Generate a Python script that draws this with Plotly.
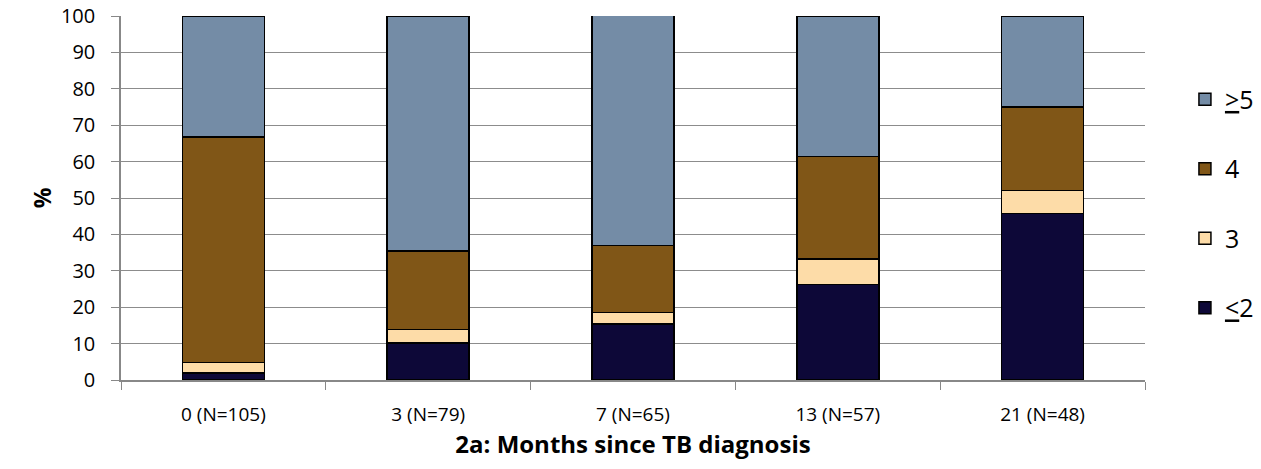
import plotly.graph_objects as go

categories = ["0 (N=105)", "3 (N=79)", "7 (N=65)", "13 (N=57)", "21 (N=48)"]
le2 = [1.9, 10.1, 15.4, 26.3, 45.8]
three = [2.9, 3.8, 3.1, 7.0, 6.3]
four = [61.9, 21.5, 18.5, 28.1, 22.9]
ge5 = [33.3, 64.6, 63.1, 38.6, 25.0]

series_names = ["<u>&lt;</u>2", "3", "4", "<u>&gt;</u>5"]
series_values = [le2, three, four, ge5]
colors = ["#0D0838", "#FDDCA8", "#805617", "#748CA6"]

FONT = "Open Sans"

fig = go.Figure()
for i, (name, vals, col) in enumerate(zip(series_names, series_values, colors)):
    fig.add_trace(go.Bar(
        x=categories, y=vals, name=name,
        marker=dict(color=col, line=dict(color="black", width=1.5)),
        legendgroup=f"g{i}",
        legendrank=100 - i,
    ))

fig.update_layout(
    barmode="stack",
    bargap=0.6,
    width=1261, height=469,
    margin=dict(l=121, r=116, t=16, b=89, autoexpand=False),
    plot_bgcolor="white", paper_bgcolor="white",
    font=dict(family=FONT, color="black", size=19),
    legend=dict(
        x=1.039, y=0.485, xanchor="left", yanchor="middle",
        traceorder="grouped", tracegroupgap=34,
        font=dict(size=25, family=FONT),
    ),
    xaxis=dict(
        showline=True, linecolor="#888888", linewidth=1.5,
        ticks="outside", tickson="boundaries", ticklen=8, tickcolor="#888888",
        tickfont=dict(size=19), ticklabelstandoff=16,
        title=dict(text="<b>2a: Months since TB diagnosis</b>", font=dict(size=24), standoff=10),
    ),
    yaxis=dict(
        range=[0, 100], dtick=10,
        showline=True, linecolor="#888888", linewidth=1.5,
        ticks="outside", ticklen=8, tickcolor="#888888",
        showgrid=True, gridcolor="#8c8c8c", gridwidth=1.2,
        tickfont=dict(size=20), ticklabelstandoff=12,
        title=dict(text="<b>%</b>", font=dict(size=23), standoff=3),
    ),
)

fig.write_html(
    "out.html",
    config={"displayModeBar": False},
    post_script="document.body.style.margin='0';",
)
